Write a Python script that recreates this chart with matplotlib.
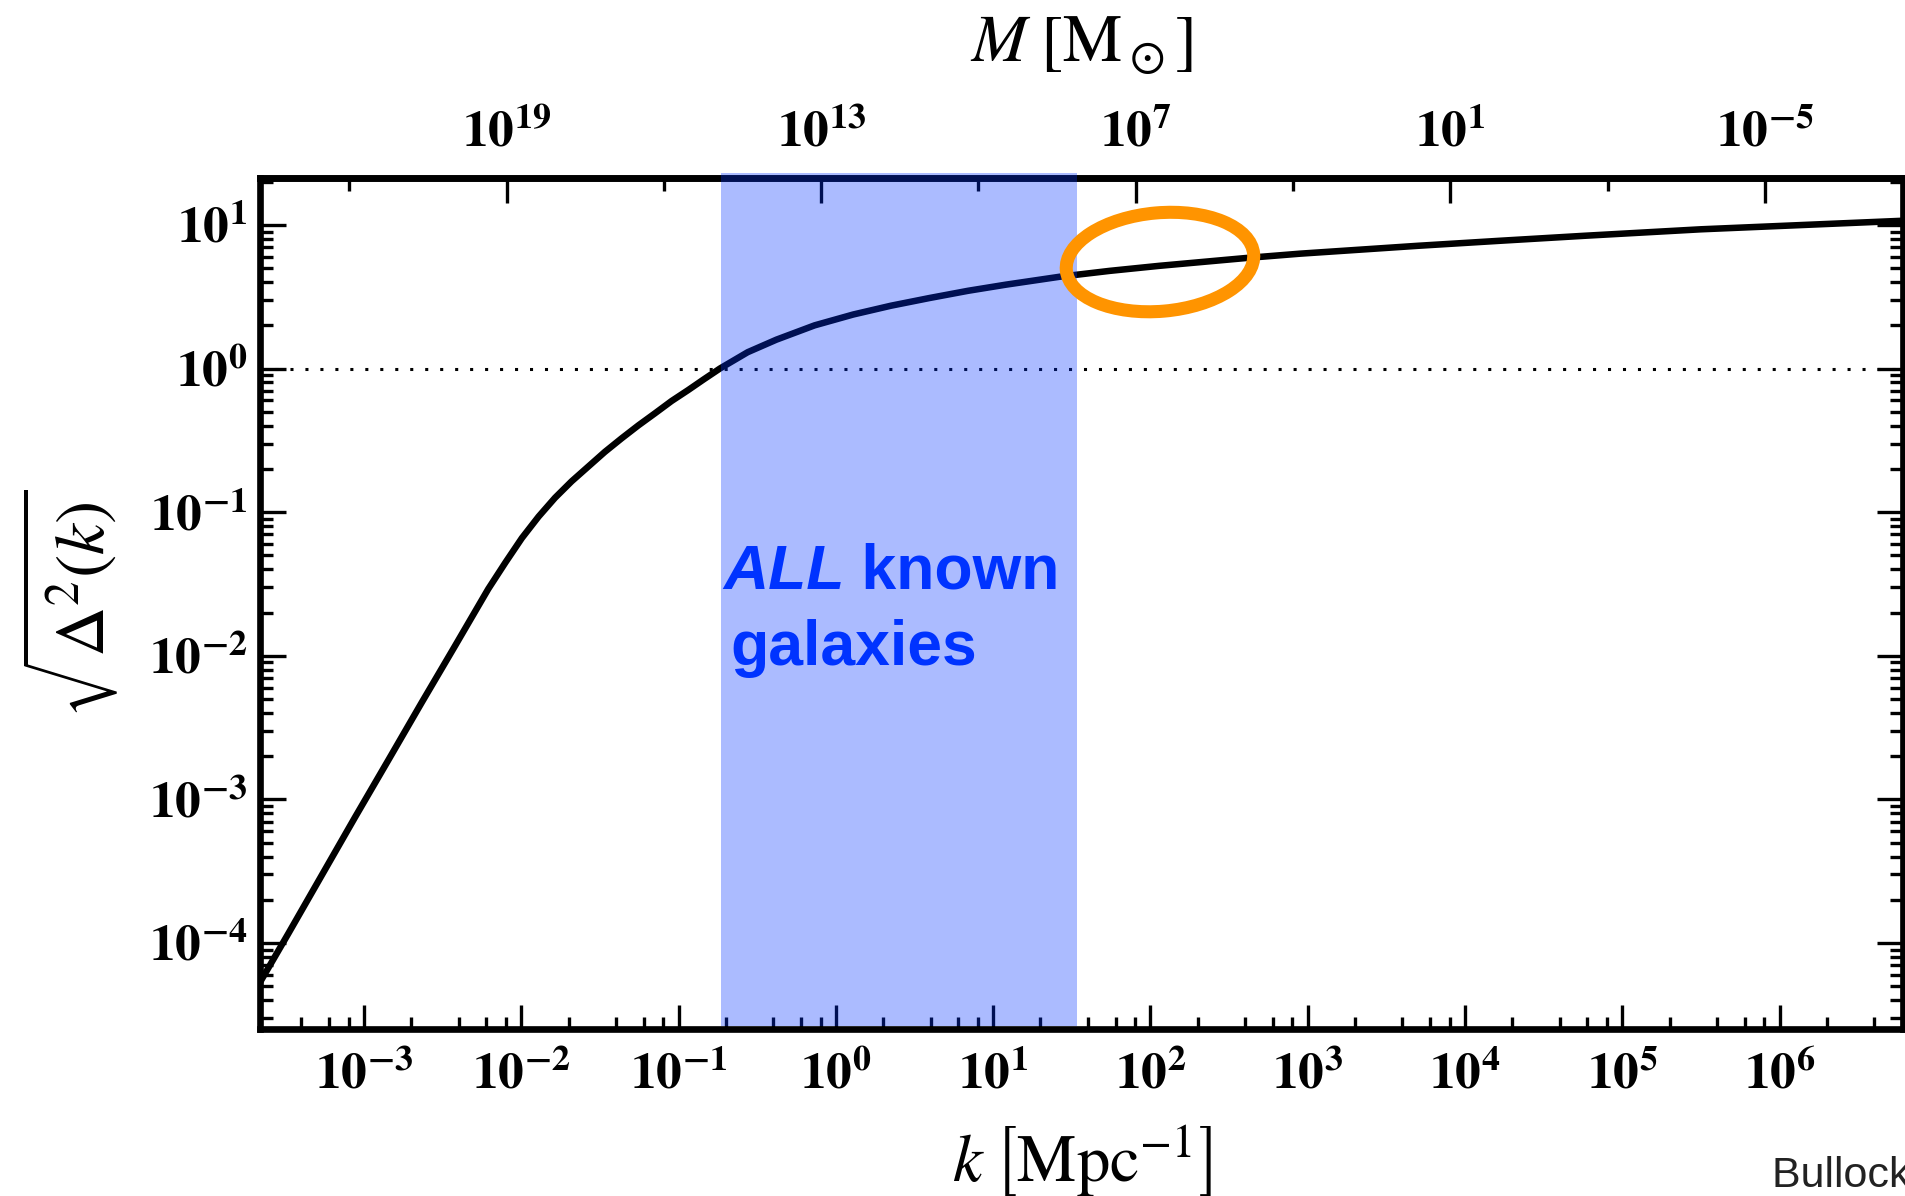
import numpy as np
import matplotlib
matplotlib.use("Agg")
import matplotlib.pyplot as plt
import matplotlib.ticker as mticker
from matplotlib.patches import Ellipse
from matplotlib.transforms import ScaledTranslation

# ---------------- data ----------------
k_values = [2.18e-4, 3.30e-4, 5.38e-4, 8.77e-4, 1.43e-3, 2.33e-3, 3.79e-3,
            6.17e-3, 7.94e-3, 1.01e-2, 1.29e-2, 1.64e-2, 2.09e-2, 2.67e-2,
            3.40e-2, 4.35e-2, 5.55e-2, 7.08e-2, 9.04e-2, 0.115, 0.145, 0.183,
            0.275, 0.419, 0.733, 1.29, 2.24, 3.94, 6.92, 12.05, 26.5, 55.0,
            113.0, 407.0, 891.0, 5.0e3, 1.66e4, 5.75e4, 3.16e5, 6.08e6]
sqrt_delta2 = [5.31e-5, 1.16e-4, 2.95e-4, 7.50e-4, 1.88e-3, 4.73e-3, 1.17e-2,
               2.92e-2, 4.47e-2, 6.61e-2, 9.33e-2, 0.126, 0.164, 0.208,
               0.263, 0.327, 0.402, 0.488, 0.595, 0.708, 0.843, 1.0,
               1.30, 1.59, 2.00, 2.38, 2.74, 3.10, 3.48, 3.84, 4.36, 4.79,
               5.19, 5.89, 6.31, 7.16, 7.76, 8.41, 9.33, 10.7]

band_k = [0.186, 34.0]                      # "ALL known galaxies" range in k
highlight_k, highlight_delta = 115.0, 5.52  # orange ellipse centre
k_major_ticks = [1e-3, 1e-2, 1e-1, 1e0, 1e1, 1e2, 1e3, 1e4, 1e5, 1e6]
y_major_ticks = [1e-4, 1e-3, 1e-2, 1e-1, 1e0, 1e1]
M_major_ticks = [1e19, 1e13, 1e7, 1e1, 1e-5]
M_minor_ticks = [1e22, 1e16, 1e10, 1e4, 1e-2]
mass_norm = 10 ** 12.72                      # M = mass_norm * k^-3  [Msun]

# ---------------- style ----------------
plt.rcParams["mathtext.fontset"] = "stix"
plt.rcParams["font.family"] = ["STIXGeneral", "DejaVu Sans"]

fig = plt.figure(figsize=(19.06, 11.96), dpi=100)
ax = fig.add_axes([0.1364, 0.1396, 0.862, 0.7112])
ax.set_xscale("log")
ax.set_yscale("log")

ax.plot(k_values, sqrt_delta2, color="black", lw=4.7, zorder=2,
        solid_capstyle="butt", solid_joinstyle="round")
ax.axhline(1.0, color="black", lw=2.2, ls=(0, (1, 3.9)), zorder=1.8)
ax.axvspan(band_k[0], band_k[1], ymin=0.004, ymax=1.006, color="#0033ff",
           alpha=0.33, lw=0, zorder=3, clip_on=False)

ax.set_xlim(10 ** -3.661, 10 ** 6.784)
ax.set_ylim(10 ** -4.599, 10 ** 1.324)

def pow_fmt(v, pos):
    return r"$\mathbf{10^{%d}}$" % int(round(np.log10(v)))

ax.xaxis.set_major_locator(mticker.FixedLocator(k_major_ticks))
ax.xaxis.set_minor_locator(mticker.LogLocator(base=10, subs=(2, 4, 6, 8), numticks=50))
ax.xaxis.set_major_formatter(mticker.FuncFormatter(pow_fmt))
ax.xaxis.set_minor_formatter(mticker.NullFormatter())
ax.yaxis.set_major_locator(mticker.FixedLocator(y_major_ticks))
ax.yaxis.set_minor_locator(mticker.LogLocator(base=10, subs=np.arange(2, 10), numticks=50))
ax.yaxis.set_major_formatter(mticker.FuncFormatter(pow_fmt))
ax.yaxis.set_minor_formatter(mticker.NullFormatter())

ax.tick_params(axis="both", which="both", direction="in", top=False, right=True,
               width=2.4, color="black")
ax.tick_params(axis="x", which="major", length=17, pad=17, labelsize=37)
ax.tick_params(axis="x", which="minor", length=8.6)
ax.tick_params(axis="y", which="major", length=18.7, pad=9, labelsize=37)
ax.tick_params(axis="y", which="minor", length=9.4)
for s in ax.spines.values():
    s.set_linewidth(4.8)

# top mass axis
def k_to_M(k):
    k = np.asarray(k, dtype=float)
    with np.errstate(divide="ignore", invalid="ignore"):
        return mass_norm * k ** -3.0

def M_to_k(M):
    M = np.asarray(M, dtype=float)
    with np.errstate(divide="ignore", invalid="ignore"):
        return (mass_norm / M) ** (1.0 / 3.0)

secax = ax.secondary_xaxis("top", functions=(k_to_M, M_to_k))
secax.xaxis.set_major_locator(mticker.FixedLocator(M_major_ticks))
secax.xaxis.set_minor_locator(mticker.FixedLocator(M_minor_ticks))
secax.xaxis.set_major_formatter(mticker.FuncFormatter(pow_fmt))
secax.xaxis.set_minor_formatter(mticker.NullFormatter())
secax.tick_params(axis="x", which="both", direction="in", width=2.4)
secax.tick_params(axis="x", which="major", length=18, pad=15, labelsize=37)
secax.tick_params(axis="x", which="minor", length=9)
secax.spines["top"].set_linewidth(4.8)
secax.spines["bottom"].set_visible(False)
secax.set_xlabel(r"$M\;\left[\mathrm{M}_\odot\right]$", fontsize=48, va="baseline")
secax.xaxis.set_label_coords(0.5, 1.138, transform=ax.transAxes)

# axis labels
ax.set_xlabel(r"$k\;\left[\mathrm{Mpc}^{-1}\right]$", fontsize=48, va="baseline")
ax.xaxis.set_label_coords(0.5, -0.1795)
ax.set_ylabel(r"$\sqrt{\Delta^2(k)}$", fontsize=50, va="center")
ax.yaxis.set_label_coords(-0.1157, 0.5)

# orange highlight ellipse (size in inches, centred on data point)
ell = Ellipse((0, 0), 1.88, 0.985, angle=5, fill=False, edgecolor="#ff9400",
              lw=9.4, zorder=4,
              transform=fig.dpi_scale_trans +
              ScaledTranslation(highlight_k, highlight_delta, ax.transData))
ax.add_patch(ell)

# band annotation
t1 = fig.text(723 / 1906, (1196 - 589) / 1196, "ALL", fontsize=45,
              family="Liberation Sans", weight="bold", style="italic",
              color="#0033ff", ha="left", va="baseline", zorder=5)
ax.annotate(" known", xy=(1, 0), xycoords=t1, fontsize=45,
            family="Liberation Sans", weight="bold", color="#0033ff",
            ha="left", va="bottom", zorder=5, annotation_clip=False)
fig.text(730 / 1906, (1196 - 665) / 1196, "galaxies", fontsize=45,
         family="Liberation Sans", weight="bold", color="#0033ff",
         ha="left", va="baseline", zorder=5)

fig.text(1772 / 1906, (1196 - 1187) / 1196, "Bullock & Boylan-Kolchin 2017",
         fontsize=31, family="Liberation Sans", color="#222222",
         ha="left", va="baseline")

fig.savefig("out.png", dpi=100)
